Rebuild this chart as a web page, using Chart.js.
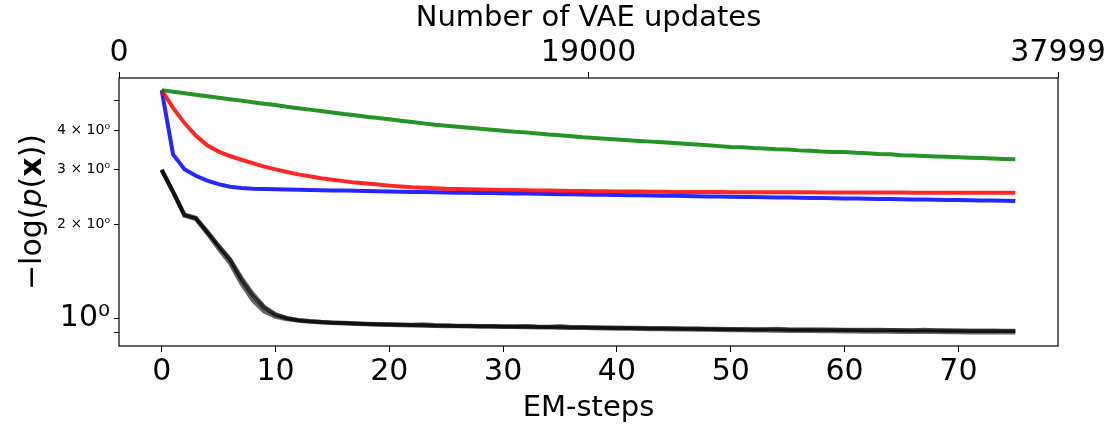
<!DOCTYPE html>
<html>
<head>
<meta charset="utf-8">
<script src="https://cdn.jsdelivr.net/npm/chart.js@4.4.1/dist/chart.umd.min.js"></script>
<style>
  html, body { margin: 0; padding: 0; background: #fff; }
  canvas { display: block; }
</style>
</head>
<body>
<canvas id="chart" width="1112" height="427"></canvas>
<script>
"use strict";

// EM-steps (x axis)
var steps = [0,1,2,3,4,5,6,7,8,9,10,11,12,13,14,15,16,17,18,19,20,21,22,23,24,25,26,27,28,29,
  30,31,32,33,34,35,36,37,38,39,40,41,42,43,44,45,46,47,48,49,50,51,52,53,54,55,56,57,58,59,
  60,61,62,63,64,65,66,67,68,69,70,71,72,73,74,75];

var greenRun = [5.38,5.32,5.26,5.20,5.14,5.09,5.03,4.98,4.92,4.87,4.82,4.76,4.71,4.66,4.61,4.56,
  4.51,4.47,4.42,4.38,4.34,4.29,4.25,4.21,4.17,4.14,4.11,4.08,4.05,4.02,3.99,3.96,3.94,3.91,3.88,
  3.86,3.83,3.80,3.78,3.76,3.74,3.72,3.70,3.68,3.66,3.64,3.62,3.60,3.58,3.56,3.54,3.53,3.51,3.50,
  3.48,3.47,3.45,3.44,3.42,3.41,3.41,3.39,3.38,3.36,3.35,3.33,3.32,3.31,3.30,3.29,3.28,3.27,3.26,
  3.25,3.24,3.23];

var redRun = [5.38,4.72,4.22,3.85,3.58,3.42,3.31,3.22,3.14,3.06,3.00,2.94,2.89,2.85,2.81,2.78,
  2.75,2.72,2.70,2.68,2.66,2.645,2.63,2.62,2.61,2.60,2.595,2.59,2.585,2.58,2.577,2.574,2.571,2.568,
  2.565,2.562,2.559,2.556,2.553,2.551,2.549,2.547,2.545,2.543,2.541,2.540,2.539,2.538,2.537,2.536,
  2.535,2.534,2.533,2.533,2.532,2.532,2.531,2.531,2.530,2.530,2.529,2.529,2.528,2.528,2.527,2.527,
  2.526,2.526,2.525,2.525,2.524,2.524,2.523,2.523,2.522,2.522];

var blueRun = [5.38,3.35,3.00,2.86,2.76,2.69,2.64,2.615,2.60,2.595,2.59,2.585,2.58,2.576,2.572,
  2.568,2.564,2.560,2.556,2.552,2.548,2.544,2.540,2.536,2.532,2.529,2.526,2.523,2.520,2.517,2.514,
  2.511,2.508,2.505,2.501,2.498,2.495,2.492,2.489,2.486,2.483,2.479,2.476,2.473,2.470,2.467,2.464,
  2.461,2.457,2.454,2.451,2.448,2.445,2.442,2.439,2.436,2.433,2.430,2.427,2.424,2.421,2.418,2.415,
  2.412,2.409,2.406,2.403,2.400,2.397,2.394,2.391,2.388,2.385,2.382,2.379,2.376];

var blackRunA = [2.99,2.54,2.14,2.09,1.89,1.70,1.54,1.33,1.18,1.08,1.025,1.00,0.985,0.978,0.972,
  0.968,0.965,0.962,0.959,0.957,0.955,0.953,0.951,0.949,0.947,0.946,0.945,0.944,0.943,0.942,0.941,
  0.940,0.941,0.938,0.937,0.936,0.935,0.934,0.933,0.932,0.931,0.930,0.929,0.928,0.928,0.927,0.926,
  0.925,0.924,0.923,0.922,0.921,0.921,0.920,0.920,0.919,0.919,0.918,0.918,0.917,0.917,0.916,0.916,
  0.915,0.915,0.914,0.914,0.913,0.913,0.912,0.912,0.911,0.911,0.911,0.910,0.910];

var blackRunB = [2.98,2.53,2.13,2.08,1.87,1.67,1.50,1.29,1.14,1.05,1.01,0.993,0.982,0.975,0.970,
  0.966,0.962,0.959,0.956,0.954,0.952,0.950,0.948,0.946,0.944,0.943,0.942,0.941,0.940,0.939,0.938,
  0.937,0.936,0.935,0.934,0.932,0.931,0.930,0.929,0.928,0.926,0.925,0.924,0.923,0.922,0.921,0.920,
  0.919,0.918,0.917,0.916,0.915,0.914,0.913,0.912,0.911,0.910,0.910,0.909,0.908,0.907,0.907,0.906,
  0.905,0.905,0.904,0.904,0.903,0.903,0.902,0.902,0.901,0.901,0.900,0.900,0.900];

var blackRunC = [2.99,2.55,2.15,2.10,1.90,1.71,1.55,1.35,1.20,1.09,1.03,1.003,0.988,0.980,0.974,
  0.970,0.967,0.964,0.961,0.959,0.957,0.955,0.954,0.957,0.951,0.949,0.947,0.946,0.945,0.944,0.943,
  0.942,0.944,0.941,0.940,0.944,0.938,0.937,0.936,0.935,0.934,0.933,0.932,0.931,0.930,0.929,0.928,
  0.927,0.926,0.925,0.924,0.924,0.923,0.923,0.926,0.922,0.921,0.921,0.920,0.920,0.919,0.919,0.918,
  0.918,0.917,0.917,0.916,0.919,0.915,0.915,0.914,0.914,0.913,0.913,0.912,0.912];

// tick positions / labels
var emTicks = [0, 10, 20, 30, 40, 50, 60, 70];
var vaeTicks = [0, 19000, 37999];
var yTicks = [0.9, 1, 2, 3, 4, 5];
var yTickLabels = ['', '10\u2070', '2 \u00d7 10\u2070', '3 \u00d7 10\u2070', '4 \u00d7 10\u2070', ''];

var FONT = 'DejaVu Sans';

function points(ys) {
  return steps.map(function(s, i) { return { x: s, y: ys[i] }; });
}

function line(ys, color) {
  return {
    data: points(ys),
    borderColor: color,
    borderWidth: 4,
    pointRadius: 0,
    tension: 0,
    fill: false
  };
}

var frame = {
  id: 'frame',
  afterDraw: function(chart) {
    var a = chart.chartArea, ctx = chart.ctx;
    ctx.save();
    ctx.strokeStyle = '#000';
    ctx.lineWidth = 1.2;
    ctx.strokeRect(a.left, a.top, a.right - a.left, a.bottom - a.top);

    // y axis title with mixed styles
    var parts = [
      { t: '\u2212log(', f: '30px "' + FONT + '"' },
      { t: 'p', f: 'italic 30px "' + FONT + '"' },
      { t: '(', f: '30px "' + FONT + '"' },
      { t: 'x', f: 'bold 30px "' + FONT + '"' },
      { t: '))', f: '30px "' + FONT + '"' }
    ];
    var total = 0;
    parts.forEach(function(p) { ctx.font = p.f; p.w = ctx.measureText(p.t).width; total += p.w; });
    ctx.translate(33, 212);
    ctx.rotate(-Math.PI / 2);
    ctx.fillStyle = '#000';
    ctx.textBaseline = 'middle';
    ctx.textAlign = 'left';
    var x = -total / 2;
    parts.forEach(function(p) { ctx.font = p.f; ctx.fillText(p.t, x, 0); x += p.w; });
    ctx.restore();
  }
};

Chart.defaults.color = '#000';
Chart.defaults.font.family = FONT;

new Chart(document.getElementById('chart'), {
  type: 'line',
  data: {
    datasets: [
      line(blackRunA, 'rgba(0,0,0,0.6)'),
      line(blackRunB, 'rgba(0,0,0,0.6)'),
      line(blackRunC, 'rgba(0,0,0,0.6)'),
      line(greenRun, 'rgba(0,128,0,0.85)'),
      line(redRun, 'rgba(255,0,0,0.85)'),
      line(blueRun, 'rgba(0,0,255,0.85)')
    ]
  },
  options: {
    responsive: false,
    animation: false,
    devicePixelRatio: 1,
    layout: { padding: { left: 0, right: 54, top: 0, bottom: 0 } },
    plugins: { legend: { display: false }, tooltip: { enabled: false } },
    scales: {
      x: {
        type: 'linear',
        position: 'bottom',
        min: -3.75,
        max: 78.75,
        afterBuildTicks: function(scale) { scale.ticks = emTicks.map(function(v) { return { value: v }; }); },
        afterFit: function(scale) { scale.height = 81; },
        border: { display: false },
        grid: { drawOnChartArea: false, tickLength: 6, tickColor: '#000', tickWidth: 1 },
        ticks: { font: { size: 30 }, padding: 2, maxRotation: 0, autoSkip: false },
        title: { display: true, text: 'EM-steps', font: { size: 29 }, padding: { top: 0, bottom: 1 } }
      },
      x2: {
        type: 'linear',
        position: 'top',
        min: 0,
        max: 37999,
        afterBuildTicks: function(scale) { scale.ticks = vaeTicks.map(function(v) { return { value: v }; }); },
        afterFit: function(scale) { scale.height = 78; },
        border: { display: false },
        grid: { drawOnChartArea: false, tickLength: 6, tickColor: '#000', tickWidth: 1 },
        ticks: { font: { size: 30 }, padding: 1, maxRotation: 0, autoSkip: false,
          callback: function(v) { return String(v); } },
        title: { display: true, text: 'Number of VAE updates', font: { size: 29 }, padding: { top: 1, bottom: 0 } }
      },
      y: {
        type: 'logarithmic',
        min: 0.815,
        max: 5.884,
        afterBuildTicks: function(scale) { scale.ticks = yTicks.map(function(v) { return { value: v }; }); },
        afterFit: function(scale) { scale.width = 119; },
        border: { display: false },
        grid: { drawOnChartArea: false, tickLength: 5, tickColor: '#000', tickWidth: 1 },
        ticks: {
          autoSkip: false,
          padding: 4,
          font: function(ctx) {
            return { size: ctx.tick && ctx.tick.value === 1 ? 30 : 14 };
          },
          callback: function(v) {
            var i = yTicks.indexOf(v);
            return i >= 0 ? yTickLabels[i] : '';
          }
        }
      }
    }
  },
  plugins: [frame]
});
</script>
</body>
</html>
